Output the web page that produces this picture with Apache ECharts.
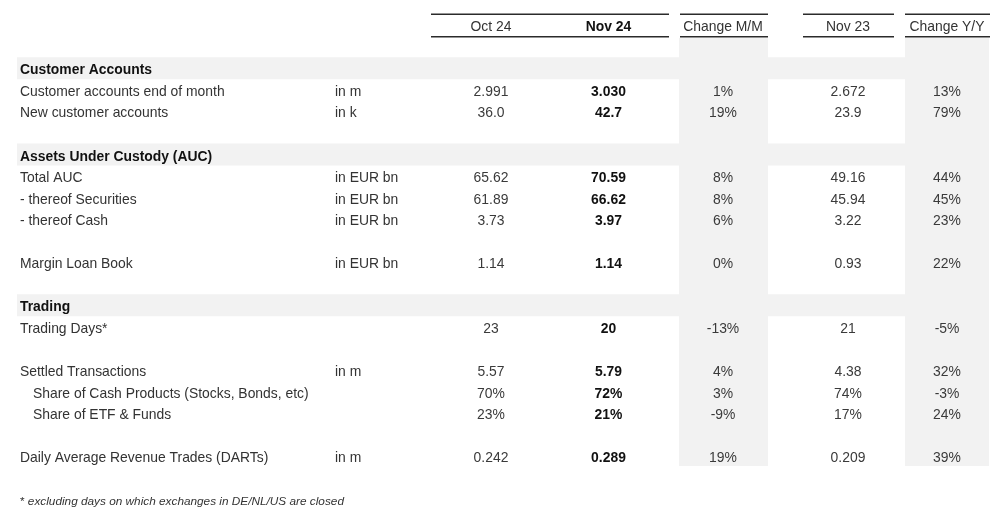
<!DOCTYPE html>
<html><head><meta charset="utf-8">
<script src="https://cdn.jsdelivr.net/npm/echarts@6/dist/echarts.min.js"></script>
<style>html,body{margin:0;padding:0;background:#fff}#c{width:1000px;height:514px}</style>
</head><body><div id="c"></div>
<script>
// ---------------- DATA ----------------
const headers = ['Oct 24', 'Nov 24', 'Change M/M', 'Nov 23', 'Change Y/Y'];
const sections = ['Customer Accounts', 'Assets Under Custody (AUC)', 'Trading'];
const sectionRows = [0, 4, 11];
const rowLabels = ['', 'Customer accounts end of month', 'New customer accounts', '', '',
  'Total AUC', '- thereof Securities', '- thereof Cash', '', 'Margin Loan Book', '', '',
  'Trading Days*', '', 'Settled Transactions', 'Share of Cash Products (Stocks, Bonds, etc)',
  'Share of ETF & Funds', '', 'Daily Average Revenue Trades (DARTs)'];
const units = ['', 'in m', 'in k', '', '', 'in EUR bn', 'in EUR bn', 'in EUR bn', '', 'in EUR bn', '', '',
  '', '', 'in m', '', '', '', 'in m'];
const oct24 = ['', '2.991', '36.0', '', '', '65.62', '61.89', '3.73', '', '1.14', '', '',
  '23', '', '5.57', '70%', '23%', '', '0.242'];
const nov24 = ['', '3.030', '42.7', '', '', '70.59', '66.62', '3.97', '', '1.14', '', '',
  '20', '', '5.79', '72%', '21%', '', '0.289'];
const changeMM = ['', '1%', '19%', '', '', '8%', '8%', '6%', '', '0%', '', '',
  '-13%', '', '4%', '3%', '-9%', '', '19%'];
const nov23 = ['', '2.672', '23.9', '', '', '49.16', '45.94', '3.22', '', '0.93', '', '',
  '21', '', '4.38', '74%', '17%', '', '0.209'];
const changeYY = ['', '13%', '79%', '', '', '44%', '45%', '23%', '', '22%', '', '',
  '-5%', '', '32%', '-3%', '24%', '', '39%'];
const subRows = [15, 16];
const footnoteMark = '*';
const footnote = 'excluding days on which exchanges in DE/NL/US are closed';

// ---------------- LAYOUT ----------------
const W = 1000, H = 514;
const ROW0 = 70, PITCH = 21.55;
const FONT = '"Liberation Sans", Arial, sans-serif';
const FS = 13.9;
const LABEL_X = 20, INDENT_X = 33, UNIT_X = 335;
const COL_X = [491, 608.5, 723, 848, 947];
const SEGMENTS = [[431, 669], [680, 768], [803, 894], [905, 990]];
const GRAY_COLS = [[679, 768], [905, 989]];
const HEADER_ROW = -2.02, LINE_TOP = -2.585, LINE_BOT = -1.545;
const GRAY_TOP = -1.485, GRAY_BOT = 18.38;
const BAND_X = [17, 988];
const valueCols = [oct24, nov24, changeMM, nov23, changeYY];
const rowIdx = rowLabels.map((_, i) => i);

function txt(api, x, r, text, opt) {
  const p = api.coord([x, r]);
  opt = opt || {};
  return {
    type: 'text',
    style: {
      text: text, x: p[0], y: p[1] + 0.5,
      fill: opt.fill || '#333',
      font: (opt.italic ? 'italic ' : '') + (opt.bold ? 'bold ' : '') + (opt.size || FS) + 'px ' + FONT,
      align: opt.align || 'left', verticalAlign: 'middle',
      textAlign: opt.align || 'left', textVerticalAlign: 'middle'
    }
  };
}
function rect(api, x0, x1, r0, r1, fill) {
  const a = api.coord([x0, r0]), b = api.coord([x1, r1]);
  return { type: 'rect', shape: { x: a[0], y: a[1], width: b[0] - a[0], height: b[1] - a[1] }, style: { fill: fill } };
}

const chart = echarts.init(document.getElementById('c'), null, { renderer: 'canvas' });
chart.setOption({
  animation: false,
  backgroundColor: '#ffffff',
  grid: { left: 0, right: 0, top: 0, bottom: 0 },
  xAxis: { type: 'value', min: 0, max: W, show: false },
  yAxis: { type: 'value', min: -ROW0 / PITCH, max: (H - ROW0) / PITCH, inverse: true, show: false },
  series: [
    { // gray change columns
      type: 'custom', clip: false, silent: true, z: 1,
      data: GRAY_COLS.map((_, i) => i),
      renderItem: (params, api) => {
        const c = GRAY_COLS[params.dataIndex];
        return rect(api, c[0], c[1], GRAY_TOP, GRAY_BOT, '#f2f2f2');
      }
    },
    { // section bands + titles
      type: 'custom', clip: false, silent: true, z: 2,
      data: sections.map((_, i) => i),
      renderItem: (params, api) => {
        const r = sectionRows[params.dataIndex];
        return { type: 'group', children: [
          rect(api, BAND_X[0], BAND_X[1], r - 0.59, r + 0.43, '#f2f2f2'),
          txt(api, LABEL_X, r, sections[params.dataIndex], { bold: true, fill: '#111' })
        ] };
      }
    },
    { // header
      type: 'custom', clip: false, silent: true, z: 3,
      data: headers.map((_, i) => i),
      renderItem: (params, api) => {
        const i = params.dataIndex;
        const ch = [txt(api, COL_X[i], HEADER_ROW, headers[i], { align: 'center', bold: i === 1, fill: i === 1 ? '#111' : '#333' })];
        if (i < SEGMENTS.length) {
          const s = SEGMENTS[i];
          [LINE_TOP, LINE_BOT].forEach(r => {
            const a = api.coord([s[0], r]), b = api.coord([s[1], r]);
            ch.push({ type: 'line', shape: { x1: a[0], y1: a[1], x2: b[0], y2: b[1] }, style: { stroke: '#2b2b2b', lineWidth: 1.6 } });
          });
        }
        return { type: 'group', children: ch };
      }
    },
    { // body rows
      type: 'custom', clip: false, silent: true, z: 4,
      data: rowIdx,
      renderItem: (params, api) => {
        const r = params.dataIndex;
        const ch = [];
        if (rowLabels[r]) ch.push(txt(api, subRows.includes(r) ? INDENT_X : LABEL_X, r, rowLabels[r], { fill: '#333' }));
        if (units[r]) ch.push(txt(api, UNIT_X, r, units[r], { fill: '#333' }));
        valueCols.forEach((col, c) => {
          if (col[r]) ch.push(txt(api, COL_X[c], r, col[r], { align: 'center', bold: c === 1, fill: c === 1 ? '#111' : '#3a3a3a' }));
        });
        return { type: 'group', children: ch };
      }
    },
    { // footnote
      type: 'custom', clip: false, silent: true, z: 5,
      data: [0],
      renderItem: (params, api) => {
        const p = api.coord([LABEL_X, 20]);
        return {
          type: 'text',
          style: {
            text: '{a|' + footnoteMark + '} {b|' + footnote + '}',
            x: p[0], y: p[1] + 0.5,
            align: 'left', verticalAlign: 'middle', textAlign: 'left', textVerticalAlign: 'middle',
            rich: {
              a: { fontSize: 11.8, fontFamily: FONT, fill: '#333', color: '#333' },
              b: { fontSize: 11.8, fontFamily: FONT, fontStyle: 'italic', fill: '#333', color: '#333' }
            },
            fill: '#333', fontSize: 11.8, fontFamily: FONT
          }
        };
      }
    }
  ]
});
</script>
</body></html>
